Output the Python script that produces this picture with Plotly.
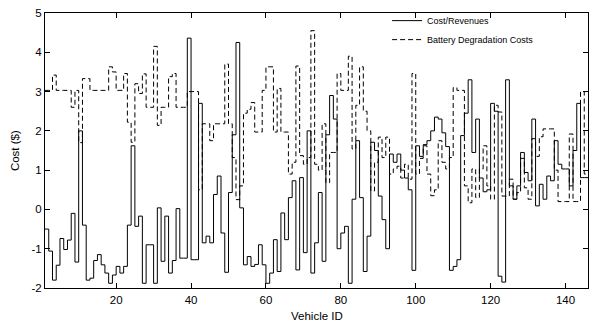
import plotly.graph_objects as go

vehicle_ids = list(range(1, 147))

cost_revenues = [
    -0.5, -1.06, -1.8, -1.42, -0.74, -1.02, -0.78, -0.1, -1.34, 2.0,
    -0.4, -1.8, -1.75, -1.3, -1.15, -1.41, -1.62, -1.88, -1.67, -1.45,
    -1.62, -1.45, -0.4, 1.62, -0.43, -0.17, -1.88, -0.9, -0.9, -1.88,
    0.04, -1.32, -0.17, -1.62, -1.3, 0.02, -1.24, -1.24, 4.36, -1.28,
    -1.28, 2.7, -0.85, -0.68, -0.85, 0.38, 0.85, -0.6, -1.6, 0.43,
    1.9, 4.25, 0.04, -1.41, -1.2, -1.45, -1.4, -0.9, -1.41, -1.88,
    -1.62, -0.77, -1.58, -0.09, -0.77, 0.3, 0.73, -1.54, 0.81, -1.1,
    2.0, -1.62, -0.85, 0.43, -1.32, 1.9, 2.9, 2.3, -1.0, -0.6,
    -0.43, -1.88, 0.26, 1.75, 0.3, -1.58, -0.68, 1.71, 1.5, 0.34,
    -0.26, -1.0, 1.41, 1.2, 1.41, 1.0, 0.8, 0.5, -1.55, 1.62,
    1.35, 1.65, 1.75, 2.0, 2.35, 2.3, 1.95, 1.6, -1.55, -1.45,
    -1.28, 1.88, 2.45, 3.3, 1.45, 2.3, 0.8, 0.45, 0.5, 2.7,
    2.5, -1.7, -1.85, 3.3, 0.6, 0.26, 0.6, 1.45, 0.94, 0.73,
    2.3, 0.09, 0.64, 0.26, 0.85, 0.73, 1.75, 1.15, 1.03, 1.03,
    0.6, 1.5, 2.7, 0.81, 0.81, 0.81,
]

battery_degradation = [
    3.03, 3.03, 3.42, 3.03, 3.03, 3.03, 3.03, 2.6, 3.03, 1.7,
    3.33, 3.33, 3.03, 3.03, 3.03, 3.03, 3.03, 3.63, 3.5, 3.03,
    3.03, 3.46, 2.22, 1.71, 3.2, 2.95, 3.45, 2.6, 2.6, 4.15,
    2.14, 2.6, 2.6, 3.38, 3.46, 2.6, 2.6, 2.6, 3.0, 3.0,
    3.0, 0.5, 2.18, 2.18, 1.75, 2.18, 2.18, 2.18, 3.7, 2.18,
    1.32, 0.25, 0.6, 2.45, 2.55, 2.72, 1.97, 1.97, 3.03, 3.63,
    3.63, 1.97, 3.08, 1.97, 1.97, 0.9, 1.2, 3.65, 1.37, 1.15,
    1.32, 4.55, 1.15, 1.0, 2.18, 0.68, 1.45, 1.45, 3.46, 3.03,
    3.03, 3.9, 1.54, 2.65, 3.63, 2.5, 2.0, 0.47, 1.2, 1.84,
    1.32, 1.84, 0.9, 1.03, 1.1, 0.8, 1.15, 0.77, 3.46, 0.9,
    1.3, 1.62, 0.9, 0.35, 0.5, 1.75, 1.2, 1.03, 1.32, 3.1,
    3.03, 3.03, 0.6, 0.17, 1.03, 0.3, 1.03, 1.62, 0.6, 0.26,
    2.65, 2.48, 0.34, 0.34, 0.77, 0.26, 0.43, 1.3, 0.55, 0.26,
    1.8, 1.35, 1.85, 2.05, 2.05, 2.05, 1.0, 0.2, 0.2, 0.2,
    1.92, 0.2, 0.2, 3.0, 0.9, 0.9,
]

x_tick_values = [20, 40, 60, 80, 100, 120, 140]
y_tick_values = [-2, -1, 0, 1, 2, 3, 4, 5]
y_tick_labels = ["-2", "-1", "0", "1", "2", "3", "4", "5"]

FONT = "Liberation Sans, Arial, Helvetica, sans-serif"

fig = go.Figure()
fig.add_trace(go.Scatter(
    x=vehicle_ids, y=cost_revenues, mode="lines", line_shape="hv",
    name="Cost/Revenues", line=dict(color="black", width=1),
))
fig.add_trace(go.Scatter(
    x=vehicle_ids, y=battery_degradation, mode="lines", line_shape="hv",
    name="Battery Degradation Costs",
    line=dict(color="black", width=1, dash="5px,3px"),
))

axis_common = dict(
    showline=True, linecolor="black", linewidth=1, mirror="ticks",
    ticks="inside", ticklen=5, tickwidth=1, tickcolor="black",
    showgrid=False, zeroline=False, automargin=False,
    tickfont=dict(family=FONT, size=11.5, color="black"),
)

fig.update_layout(
    width=590, height=322,
    margin=dict(l=45, r=2, t=13, b=34),
    paper_bgcolor="white", plot_bgcolor="white",
    font=dict(family=FONT, size=11.5, color="black"),
    showlegend=True,
    legend=dict(
        x=0.63, y=1.025, xanchor="left", yanchor="top",
        bgcolor="rgba(255,255,255,0)", borderwidth=0,
        font=dict(family=FONT, size=9, color="black"),
        itemwidth=30, tracegroupgap=0,
    ),
    xaxis=dict(range=[1, 146], tickvals=x_tick_values, ticklabelstandoff=1,
               **axis_common),
    yaxis=dict(range=[-2, 5], tickvals=y_tick_values, ticktext=y_tick_labels,
               **axis_common),
    annotations=[
        dict(text="Vehicle ID", xref="paper", yref="paper", x=0.5, y=-0.102,
             xanchor="center", yanchor="middle", showarrow=False,
             font=dict(family=FONT, size=11.5, color="black")),
        dict(text="Cost ($)", xref="paper", yref="paper", x=-0.056, y=0.5,
             xanchor="center", yanchor="middle", textangle=-90, showarrow=False,
             font=dict(family=FONT, size=11.5, color="black")),
    ],
)

fig.write_html(
    "out.html",
    config={"displayModeBar": False},
    post_script="document.body.style.margin='0';document.body.style.overflow='hidden';",
)
